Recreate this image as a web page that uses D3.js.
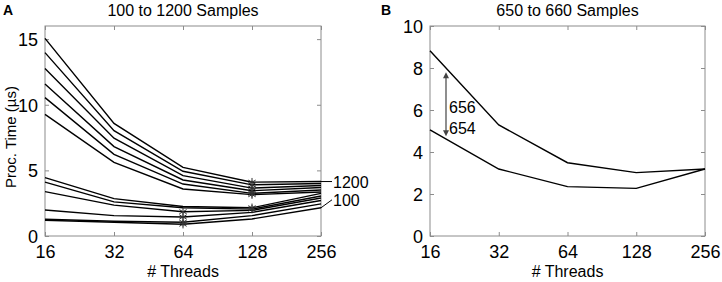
<!DOCTYPE html>
<html><head><meta charset="utf-8">
<script src="https://cdn.jsdelivr.net/npm/d3@7"></script>
<style>body{margin:0;background:#fff}svg{display:block;font-family:"Liberation Sans",Arial,sans-serif}</style>
</head><body>
<svg id="c" width="722" height="282"></svg>
<script>
const threads = [16, 32, 64, 128, 256];
const samplesA = [100, 200, 300, 400, 500, 600, 700, 800, 900, 1000, 1100, 1200];
const s100  = [1.20, 1.05, 0.90, 1.30, 2.15];
const s200  = [1.28, 1.12, 1.05, 1.55, 2.45];
const s300  = [1.98, 1.55, 1.45, 1.80, 2.70];
const s400  = [3.38, 2.35, 1.85, 1.95, 2.90];
const s500  = [4.10, 2.60, 2.15, 2.05, 3.05];
const s600  = [4.45, 2.85, 2.25, 2.15, 3.25];
const s700  = [9.27, 5.61, 3.58, 3.15, 3.35];
const s800  = [10.54, 6.22, 3.96, 3.25, 3.50];
const s900  = [11.58, 6.81, 4.27, 3.45, 3.70];
const s1000 = [12.77, 7.45, 4.60, 3.65, 3.85];
const s1100 = [13.97, 8.03, 4.93, 3.90, 4.00];
const s1200 = [15.06, 8.58, 5.23, 4.10, 4.15];
const seriesA = [s100, s200, s300, s400, s500, s600, s700, s800, s900, s1000, s1100, s1200];
const samplesB = [656, 654];
const s656 = [8.82, 5.29, 3.49, 3.02, 3.19];
const s654 = [5.05, 3.19, 2.35, 2.27, 3.19];
const seriesB = [s656, s654];
const yTicksA = [0, 5, 10, 15];
const yTicksB = [0, 2, 4, 6, 8, 10];
const arrowB = [7.8, 4.75];

const svg = d3.select("#c");
const axisCol = "#8c8c8c";

function panel(opt) {
  const {x0, x1, y0, y1, ymax, yticks, series, letter, title, ylabel} = opt;
  const x = d3.scaleLog().base(2).domain([16, 256]).range([x0, x1]);
  const y = d3.scaleLinear().domain([0, ymax]).range([y1, y0]);
  const g = svg.append("g");
  g.append("rect").attr("x", x0).attr("y", y0).attr("width", x1 - x0).attr("height", y1 - y0)
    .attr("fill", "none").attr("stroke", axisCol).attr("stroke-width", 1);
  const ax = d3.axisBottom(x).tickValues(threads).tickFormat(d3.format("d")).tickSizeInner(-4).tickSizeOuter(0).tickPadding(9);
  const gx = g.append("g").attr("transform", `translate(0,${y1})`).call(ax);
  const axT = d3.axisTop(x).tickValues(threads).tickFormat("").tickSizeInner(-4).tickSizeOuter(0);
  const gxt = g.append("g").attr("transform", `translate(0,${y0})`).call(axT);
  const ay = d3.axisLeft(y).tickValues(yticks).tickFormat(d3.format("d")).tickSizeInner(-4).tickSizeOuter(0).tickPadding(7);
  const gy = g.append("g").attr("transform", `translate(${x0},0)`).call(ay);
  const ayR = d3.axisRight(y).tickValues(yticks).tickFormat("").tickSizeInner(-4).tickSizeOuter(0);
  const gyr = g.append("g").attr("transform", `translate(${x1},0)`).call(ayR);
  [gx, gxt, gy, gyr].forEach(a => {
    a.select(".domain").remove();
    a.selectAll("line").attr("stroke", axisCol);
    a.selectAll("text").attr("fill", "#000").style("font-size", "18px").style("font-family", '"Liberation Sans",Arial,sans-serif');
  });
  gx.selectAll("text").attr("dy", "0.71em");
  gy.selectAll("text").attr("dy", "0.36em");
  const line = d3.line().x((d, i) => x(threads[i])).y(d => y(d));
  g.selectAll("path.s").data(series).join("path").attr("class", "s")
    .attr("d", line).attr("fill", "none").attr("stroke", "#000").attr("stroke-width", 1.4);
  svg.append("text").attr("x", letter[1]).attr("y", 15).text(letter[0])
    .style("font-size", "14px").style("font-weight", "bold");
  svg.append("text").attr("x", (x0 + x1) / 2).attr("y", 16).attr("text-anchor", "middle").text(title)
    .style("font-size", "16px");
  svg.append("text").attr("x", (x0 + x1) / 2).attr("y", 277).attr("text-anchor", "middle").text("# Threads")
    .style("font-size", "16px");
  if (ylabel) {
    svg.append("text").attr("transform", `translate(16,${(y0 + y1) / 2 + 6}) rotate(-90)`).attr("text-anchor", "middle")
      .text(ylabel).style("font-size", "15px");
  }
  return {x, y, g};
}

const A = panel({x0: 45, x1: 321, y0: 26, y1: 236, ymax: 16, yticks: yTicksA, series: seriesA,
  letter: ["A", 3], title: "100 to 1200 Samples", ylabel: "Proc. Time (\u00b5s)"});
const ast = d3.symbol().type(d3.symbolAsterisk || d3.symbolCross).size(50);
seriesA.forEach(s => {
  const i = d3.minIndex(s);
  A.g.append("path").attr("d", ast).attr("transform", `translate(${A.x(threads[i])},${A.y(s[i])})`)
    .attr("fill", "none").attr("stroke", "#333").attr("stroke-width", 1);
});
const last = threads.length - 1;
const yTop = A.y(s1200[last]), yBot = A.y(s100[last]);
A.g.append("line").attr("x1", 321).attr("x2", 332).attr("y1", yTop).attr("y2", yTop).attr("stroke", "#000");
A.g.append("text").attr("x", 333).attr("y", yTop + 6).text(String(samplesA[samplesA.length - 1])).style("font-size", "16px");
A.g.append("line").attr("x1", 321).attr("x2", 332).attr("y1", yBot).attr("y2", yBot - 8).attr("stroke", "#000");
A.g.append("text").attr("x", 333).attr("y", yBot - 2).text(String(samplesA[0])).style("font-size", "16px");

const B = panel({x0: 430, x1: 705, y0: 26, y1: 236, ymax: 10, yticks: yTicksB, series: seriesB,
  letter: ["B", 381], title: "650 to 660 Samples"});
const ax0 = 446;
const ya = B.y(arrowB[0]), yb = B.y(arrowB[1]);
B.g.append("line").attr("x1", ax0).attr("x2", ax0).attr("y1", ya + 3).attr("y2", yb - 3).attr("stroke", "#444").attr("stroke-width", 1.2);
B.g.append("path").attr("d", `M${ax0 - 3},${ya + 6}L${ax0},${ya}L${ax0 + 3},${ya + 6}Z`).attr("fill", "#444");
B.g.append("path").attr("d", `M${ax0 - 3},${yb - 6}L${ax0},${yb}L${ax0 + 3},${yb - 6}Z`).attr("fill", "#444");
B.g.append("text").attr("x", 449).attr("y", 113).text(String(samplesB[0])).style("font-size", "16px");
B.g.append("text").attr("x", 449).attr("y", 134).text(String(samplesB[1])).style("font-size", "16px");
</script>
</body></html>
